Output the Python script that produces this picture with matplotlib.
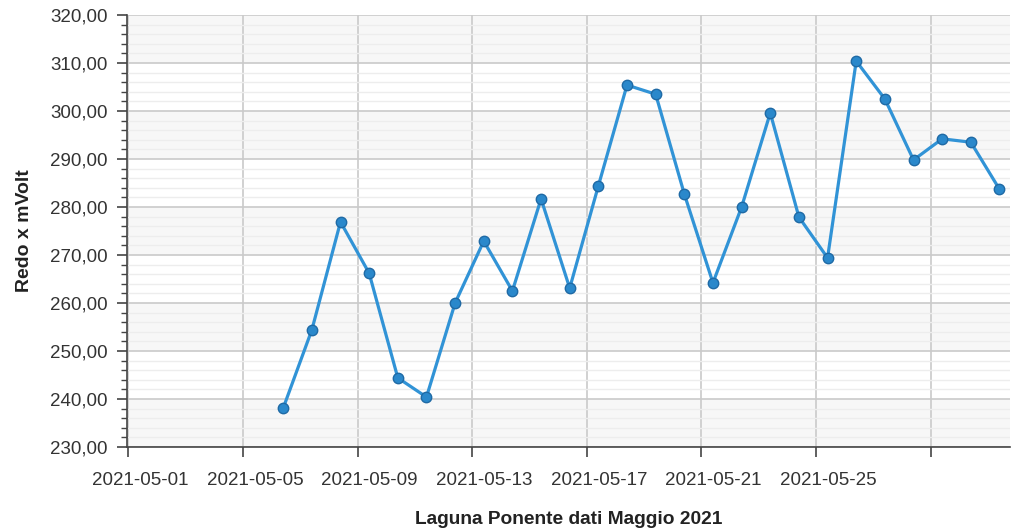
import matplotlib.pyplot as plt
import matplotlib.dates as mdates
import matplotlib.transforms as mtransforms
from matplotlib.ticker import MultipleLocator, FuncFormatter, FixedLocator
import datetime as dt

# Redox readings, one per day (taken mid-morning)
days = list(range(6, 32))
redox = [238.1, 254.4, 276.9, 266.2, 244.4, 240.4, 260.0, 272.9, 262.5, 281.7,
         263.1, 284.4, 305.4, 303.5, 282.7, 264.2, 280.0, 299.6, 277.9, 269.4,
         310.4, 302.5, 289.8, 294.2, 293.5, 283.7]
tick_days = [1, 5, 9, 13, 17, 21, 25, 29]
tick_labels = ['2021-05-01', '2021-05-05', '2021-05-09', '2021-05-13',
               '2021-05-17', '2021-05-21', '2021-05-25', '']

times = [dt.datetime(2021, 5, d, 9, 40) for d in days]

plt.rcParams['font.family'] = ['Liberation Sans', 'DejaVu Sans']

fig = plt.figure(figsize=(10.11, 5.32), dpi=100)
ax = fig.add_axes([0.1256, 0.1598, 0.8734, 0.812])

# alternating bands
for lo in range(230, 320, 20):
    ax.axhspan(lo, lo + 10, color='#f7f7f7', zorder=0, lw=0)

ax.plot(times, redox, color='#3193d6', lw=2.3, zorder=3,
        marker='o', ms=7.5, mfc='#2a88cb', mec='#1f6aa5', mew=1)

start = dt.datetime(2021, 5, 1)
ax.set_xlim(start - dt.timedelta(hours=1.2), start + dt.timedelta(days=30.77))
ax.set_ylim(230, 320)

ticks = [mdates.date2num(dt.datetime(2021, 5, d)) for d in tick_days]
ax.xaxis.set_major_locator(FixedLocator(ticks))
ax.set_xticklabels(tick_labels)

ax.yaxis.set_major_locator(MultipleLocator(10))
ax.yaxis.set_minor_locator(MultipleLocator(2))
ax.yaxis.set_major_formatter(FuncFormatter(lambda v, p: f'{v:.2f}'.replace('.', ',')))

ax.grid(which='major', color='#cacaca', lw=1.2, zorder=1)
ax.grid(which='minor', axis='y', color='#ededed', lw=1, zorder=1)
ax.set_axisbelow(True)

for s in ['top', 'right']:
    ax.spines[s].set_visible(False)
for s in ['left', 'bottom']:
    ax.spines[s].set_color('#444444')
    ax.spines[s].set_linewidth(1.2)

ax.tick_params(axis='both', which='major', length=7, width=1.2, color='#444444',
               labelsize=13.5, labelcolor='#333333', pad=7)
ax.tick_params(axis='x', which='major', pad=11)
ax.tick_params(axis='y', which='minor', length=4, width=1, color='#444444')

# labels sit a bit to the right of their ticks
shift = mtransforms.ScaledTranslation(12 / 100, 0, fig.dpi_scale_trans)
for lab in ax.get_xticklabels():
    lab.set_transform(lab.get_transform() + shift)

ax.set_ylabel('Redo x mVolt', fontsize=14, fontweight='bold', color='#222222', labelpad=12)
ax.set_xlabel('Laguna Ponente dati Maggio 2021', fontsize=13.8, fontweight='bold',
              color='#222222', labelpad=16)

fig.savefig('out.png', dpi=100)
